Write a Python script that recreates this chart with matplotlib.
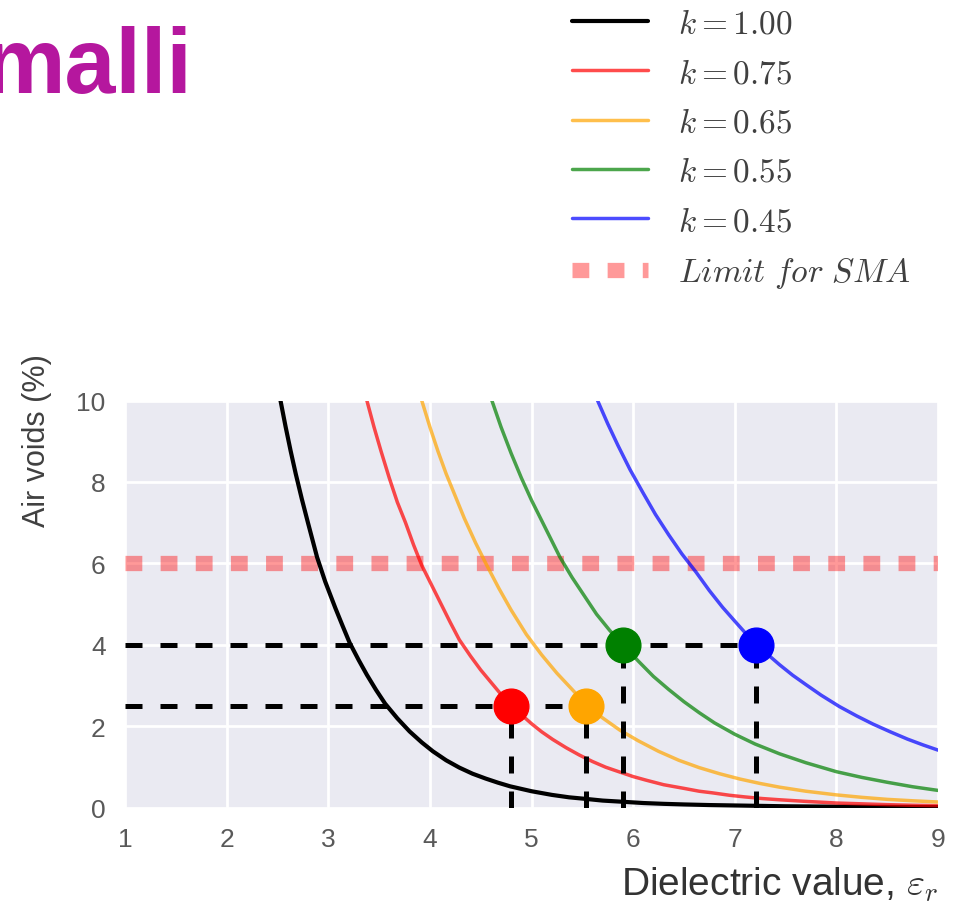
import matplotlib
matplotlib.use("Agg")
import matplotlib.pyplot as plt
import seaborn as sns

# ---------------- data ----------------
black_x = [2.53, 2.58, 2.63, 2.68, 2.74, 2.80, 2.89, 2.97, 3.07, 3.14, 3.21, 3.30, 3.38,
           3.47, 3.56, 3.68, 3.80, 3.92, 4.03, 4.16, 4.29, 4.42, 4.55, 4.67, 4.79, 5.00,
           5.20, 5.37, 5.54, 5.70, 5.87, 6.10, 6.30, 6.50, 6.75, 7.00, 7.50, 8.00, 8.50, 9.00]
black_y = [10.0, 9.36, 8.76, 8.2, 7.58, 7.0, 6.15, 5.55, 4.9, 4.47, 4.05, 3.62, 3.26,
           2.89, 2.55, 2.19, 1.87, 1.6, 1.38, 1.16, 0.98, 0.83, 0.71, 0.61, 0.52, 0.40,
           0.31, 0.25, 0.21, 0.17, 0.145, 0.11, 0.09, 0.075, 0.06, 0.05, 0.03, 0.02, 0.015, 0.01]

red_x = [3.38, 3.45, 3.52, 3.60, 3.68, 3.76, 3.84, 3.92, 4.00, 4.10, 4.20, 4.29, 4.40,
         4.50, 4.60, 4.70, 4.80, 4.90, 5.00, 5.10, 5.21, 5.34, 5.47, 5.60, 5.73, 5.87,
         6.00, 6.13, 6.30, 6.50, 6.65, 6.78, 6.95, 7.10, 7.27, 7.44, 7.70, 8.00, 8.25,
         8.50, 8.75, 9.00]
red_y = [10.0, 9.35, 8.75, 8.1, 7.5, 7.0, 6.45, 5.95, 5.55, 5.05, 4.55, 4.12, 3.72,
         3.38, 3.08, 2.78, 2.52, 2.28, 2.06, 1.86, 1.67, 1.47, 1.29, 1.13, 0.99, 0.87,
         0.76, 0.67, 0.56, 0.47, 0.40, 0.36, 0.30, 0.26, 0.22, 0.19, 0.15, 0.11, 0.09,
         0.07, 0.055, 0.045]

orange_x = [3.92, 4.00, 4.08, 4.16, 4.25, 4.34, 4.45, 4.56, 4.68, 4.80, 4.95, 5.10,
            5.25, 5.40, 5.54, 5.70, 5.87, 6.05, 6.25, 6.45, 6.65, 6.85, 7.05, 7.25,
            7.44, 7.70, 8.00, 8.25, 8.50, 8.75, 9.00]
orange_y = [10.0, 9.35, 8.75, 8.2, 7.65, 7.1, 6.5, 5.95, 5.38, 4.85, 4.25, 3.75,
            3.3, 2.9, 2.52, 2.2, 1.9, 1.64, 1.38, 1.16, 0.98, 0.83, 0.70, 0.59,
            0.50, 0.40, 0.31, 0.25, 0.20, 0.165, 0.135]

green_x = [4.61, 4.70, 4.80, 4.90, 5.00, 5.10, 5.20, 5.28, 5.40, 5.52, 5.64, 5.77,
           5.90, 6.05, 6.20, 6.35, 6.50, 6.65, 6.80, 7.00, 7.20, 7.44, 7.70, 8.00,
           8.25, 8.50, 8.75, 9.00]
green_y = [10.0, 9.35, 8.7, 8.1, 7.55, 7.05, 6.55, 6.15, 5.65, 5.2, 4.75, 4.35,
           4.0, 3.6, 3.22, 2.9, 2.6, 2.33, 2.08, 1.8, 1.56, 1.32, 1.1, 0.88,
           0.74, 0.62, 0.51, 0.42]

blue_x = [5.65, 5.75, 5.85, 5.97, 6.10, 6.22, 6.35, 6.48, 6.62, 6.75, 6.88, 7.00,
          7.10, 7.21, 7.32, 7.44, 7.57, 7.70, 7.85, 8.03, 8.20, 8.36, 8.53, 8.70,
          8.85, 9.00]
blue_y = [10.0, 9.43, 8.9, 8.3, 7.72, 7.2, 6.7, 6.23, 5.78, 5.33, 4.92, 4.58,
          4.3, 4.02, 3.77, 3.51, 3.25, 3.02, 2.76, 2.48, 2.25, 2.05, 1.86, 1.68,
          1.54, 1.41]

series_labels = [r'$k=1.00$', r'$k=0.75$', r'$k=0.65$', r'$k=0.55$', r'$k=0.45$']
limit_label = r'$Limit\ for\ SMA$'
limit_value = 6.0

point_x = [4.80, 5.54, 5.90, 7.21]
point_y = [2.5, 2.5, 4.0, 4.0]
point_colors = ['red', 'orange', 'green', 'blue']

x_ticks = [1, 2, 3, 4, 5, 6, 7, 8, 9]
y_ticks = [0, 2, 4, 6, 8, 10]
x_limits = [1, 9]
y_limits = [0, 10]

title_text = "malli"
x_label = r'Dielectric value, $\varepsilon_r$'
y_label = 'Air voids (%)'

# ---------------- style ----------------
sns.set_style("darkgrid")
plt.rcParams['font.family'] = ['Liberation Sans', 'DejaVu Sans']
plt.rcParams['mathtext.fontset'] = 'cm'

fig = plt.figure(figsize=(9.61, 9.12), dpi=100)
ax = fig.add_axes([125 / 961, 1 - 808.5 / 912, (938 - 125) / 961, (808.5 - 401.5) / 912])
ax.set_facecolor('#EAEAF2')
ax.grid(True, color='white', linewidth=2.0)
for s in ax.spines.values():
    s.set_visible(False)

curve_lw = 2.5
l1, = ax.plot(black_x, black_y, color='black', lw=3.0, label=series_labels[0], zorder=3)
l2, = ax.plot(red_x, red_y, color='red', alpha=0.7, lw=curve_lw, label=series_labels[1], zorder=3)
l3, = ax.plot(orange_x, orange_y, color='orange', alpha=0.7, lw=curve_lw, label=series_labels[2], zorder=3)
l4, = ax.plot(green_x, green_y, color='green', alpha=0.7, lw=curve_lw, label=series_labels[3], zorder=3)
l5, = ax.plot(blue_x, blue_y, color='blue', alpha=0.7, lw=curve_lw, label=series_labels[4], zorder=3)

l6, = ax.plot(x_limits, [limit_value, limit_value], color='red', alpha=0.4, lw=11,
              linestyle=(0, (1.1, 1.2)), solid_capstyle='butt', dash_capstyle='butt',
              label=limit_label, zorder=2)

# dashed guide lines
dash_style = (0, (3.4, 3.6))
ax.plot([x_limits[0], point_x[3]], [point_y[3], point_y[3]], color='black', lw=3.6,
        linestyle=dash_style, dash_capstyle='butt', zorder=4)
ax.plot([x_limits[0], point_x[1]], [point_y[1], point_y[1]], color='black', lw=3.6,
        linestyle=dash_style, dash_capstyle='butt', zorder=4)
for px, py in zip(point_x, point_y):
    ax.plot([px, px], [y_limits[0], py], color='black', lw=3.6,
            linestyle=dash_style, dash_capstyle='butt', zorder=4)

for px, py, c in zip(point_x, point_y, point_colors):
    ax.plot([px], [py], 'o', color=c, markersize=25, zorder=6)

ax.set_xlim(x_limits)
ax.set_ylim(y_limits)
ax.set_xticks(x_ticks)
ax.set_yticks(y_ticks)
ax.tick_params(axis='both', labelsize=19, labelcolor='0.35', length=0, pad=14)

ax.set_xlabel(x_label, fontsize=28, color='0.2', loc='right', labelpad=10)
ax.set_ylabel(y_label, fontsize=22, color='0.25')
ax.yaxis.set_label_coords(-0.09, 0.903)

leg = fig.legend(handles=[l1, l2, l3, l4, l5, l6], loc='upper left',
                 bbox_to_anchor=(565 / 961, 1 - 3 / 912), frameon=False, fontsize=24,
                 handlelength=2.3, handletextpad=0.9, labelspacing=0.55,
                 borderaxespad=0.0, borderpad=0.2)
for t in leg.get_texts():
    t.set_color('0.25')

fig.text(193 / 961, 1 - 93 / 912, title_text, fontsize=66, fontweight='bold',
         color='#B5179E', ha='right', va='baseline', family=['Liberation Sans', 'DejaVu Sans'])

fig.savefig("out.png", dpi=100, facecolor='white')
